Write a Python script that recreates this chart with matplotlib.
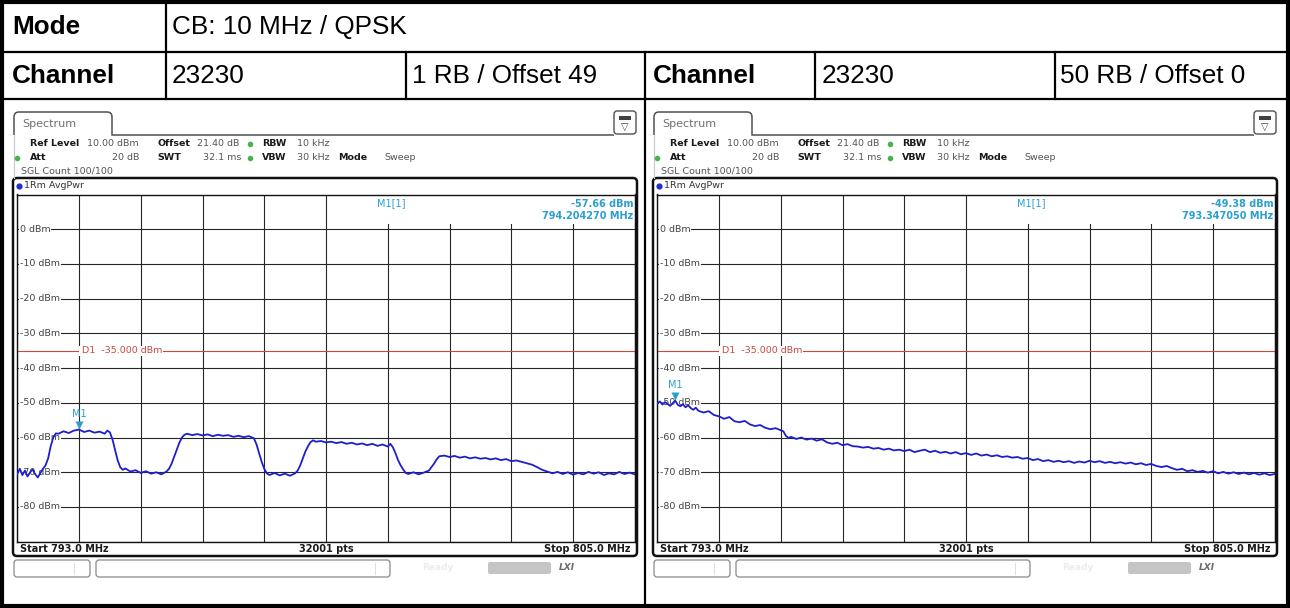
import matplotlib
matplotlib.use("Agg")
import matplotlib.pyplot as plt
import matplotlib.transforms as mtransforms
from matplotlib.patches import FancyBboxPatch, Rectangle, PathPatch
from matplotlib.path import Path
import numpy as np

W, H = 1290, 608

# ---- table texts ----
mode_text = "CB: 10 MHz / QPSK"
channels = ["23230", "23230"]
rb_configs = ["1 RB / Offset 49", "50 RB / Offset 0"]

# ---- analyzer settings ----
ref_level = 10.0
y_bottom = -90.0
f_start, f_stop = 793.0, 805.0
d1_level = -35.0
y_labels = [0, -10, -20, -30, -40, -50, -60, -70, -80]

marker_freq = [794.204270, 793.347050]
marker_level = [-57.66, -49.38]

# trace (MHz, dBm)
left_trace = [
    (793.00, -70.5), (793.05, -69.0), (793.10, -70.8), (793.15, -69.5), (793.20, -71.2),
    (793.25, -70.0), (793.30, -69.2), (793.35, -70.6), (793.40, -71.5), (793.45, -70.2),
    (793.50, -69.0), (793.55, -68.0), (793.60, -66.0), (793.65, -62.5), (793.70, -60.0),
    (793.75, -58.8), (793.80, -58.9), (793.90, -58.2), (794.00, -58.7), (794.10, -58.0),
    (794.20, -57.7), (794.30, -58.4), (794.40, -58.0), (794.50, -58.6), (794.60, -58.3),
    (794.70, -58.9), (794.75, -58.0), (794.80, -58.5), (794.85, -60.5), (794.90, -63.5),
    (794.95, -66.5), (795.00, -68.5), (795.05, -69.3), (795.10, -68.9), (795.20, -69.8),
    (795.30, -69.4), (795.40, -70.2), (795.50, -69.7), (795.60, -70.4), (795.70, -70.0),
    (795.80, -70.6), (795.90, -69.8), (795.95, -69.0), (796.00, -67.5), (796.05, -65.5),
    (796.10, -63.5), (796.15, -61.5), (796.20, -60.0), (796.25, -59.2), (796.30, -58.9),
    (796.40, -59.3), (796.50, -59.0), (796.60, -59.4), (796.70, -59.1), (796.80, -59.6),
    (796.90, -59.2), (797.00, -59.5), (797.10, -59.3), (797.20, -59.8), (797.30, -59.5),
    (797.40, -59.9), (797.50, -59.6), (797.60, -60.2), (797.65, -62.0), (797.70, -64.5),
    (797.75, -67.0), (797.80, -69.0), (797.85, -70.3), (797.90, -70.8), (798.00, -70.2),
    (798.10, -70.9), (798.20, -70.4), (798.30, -71.0), (798.40, -70.3), (798.45, -69.5),
    (798.50, -68.0), (798.55, -66.0), (798.60, -64.0), (798.65, -62.5), (798.70, -61.3),
    (798.75, -60.8), (798.80, -61.2), (798.90, -61.0), (799.00, -61.4), (799.10, -61.2),
    (799.20, -61.6), (799.30, -61.3), (799.40, -61.8), (799.50, -61.5), (799.60, -62.0),
    (799.70, -61.7), (799.80, -62.2), (799.90, -61.8), (800.00, -62.4), (800.10, -62.0),
    (800.20, -62.6), (800.25, -61.8), (800.30, -62.8), (800.35, -64.5), (800.40, -66.5),
    (800.45, -68.0), (800.50, -69.2), (800.55, -70.2), (800.60, -70.5), (800.70, -70.0),
    (800.80, -70.6), (800.90, -70.1), (801.00, -69.5), (801.05, -68.5), (801.10, -67.5),
    (801.15, -66.3), (801.20, -65.4), (801.30, -65.2), (801.40, -65.6), (801.50, -65.3),
    (801.60, -65.8), (801.70, -65.5), (801.80, -66.0), (801.90, -65.7), (802.00, -66.1),
    (802.10, -65.9), (802.20, -66.3), (802.30, -66.0), (802.40, -66.5), (802.50, -66.2),
    (802.60, -66.8), (802.70, -66.6), (802.80, -67.0), (802.90, -67.4), (803.00, -67.8),
    (803.10, -68.5), (803.20, -69.3), (803.30, -69.8), (803.40, -70.3), (803.50, -69.9),
    (803.60, -70.5), (803.70, -70.0), (803.80, -70.7), (803.90, -70.2), (804.00, -70.6),
    (804.10, -69.9), (804.20, -70.4), (804.30, -70.0), (804.40, -70.8), (804.50, -70.3),
    (804.60, -70.6), (804.70, -69.9), (804.80, -70.5), (804.90, -70.1), (805.00, -70.6),
]

right_trace = [
    (793.00, -50.2), (793.05, -49.6), (793.10, -50.5), (793.15, -49.8), (793.20, -50.3),
    (793.25, -50.9), (793.30, -50.1), (793.35, -49.4), (793.40, -50.6), (793.45, -51.0),
    (793.50, -50.4), (793.55, -51.3), (793.60, -50.7), (793.65, -51.5), (793.70, -52.0),
    (793.75, -51.4), (793.80, -52.3), (793.90, -52.8), (794.00, -52.4), (794.10, -53.5),
    (794.20, -53.9), (794.30, -54.6), (794.40, -54.1), (794.50, -55.3), (794.60, -55.6),
    (794.70, -55.2), (794.80, -56.2), (794.90, -56.7), (795.00, -56.4), (795.10, -57.2),
    (795.20, -57.6), (795.30, -57.3), (795.40, -57.9), (795.45, -58.2), (795.50, -59.5),
    (795.55, -60.1), (795.60, -59.8), (795.70, -60.4), (795.80, -60.0), (795.90, -60.6),
    (796.00, -60.3), (796.10, -60.9), (796.20, -60.5), (796.30, -61.4), (796.40, -61.8),
    (796.50, -61.5), (796.60, -62.2), (796.70, -61.9), (796.80, -62.5), (796.90, -62.6),
    (797.00, -62.9), (797.10, -62.7), (797.20, -63.2), (797.30, -63.0), (797.40, -63.5),
    (797.50, -63.2), (797.60, -63.7), (797.70, -63.5), (797.80, -63.9), (797.90, -63.5),
    (798.00, -64.2), (798.10, -63.8), (798.20, -63.5), (798.30, -64.2), (798.40, -63.8),
    (798.50, -64.4), (798.60, -64.1), (798.70, -64.6), (798.80, -64.2), (798.90, -64.8),
    (799.00, -64.5), (799.10, -65.0), (799.20, -64.6), (799.30, -65.2), (799.40, -64.9),
    (799.50, -65.4), (799.60, -65.1), (799.70, -65.6), (799.80, -65.4), (799.90, -65.8),
    (800.00, -65.6), (800.10, -66.1), (800.20, -65.9), (800.30, -66.5), (800.40, -66.2),
    (800.50, -66.8), (800.60, -66.5), (800.70, -67.0), (800.80, -66.7), (800.90, -67.1),
    (801.00, -66.8), (801.10, -67.3), (801.20, -66.9), (801.30, -67.2), (801.40, -66.7),
    (801.50, -67.1), (801.60, -66.8), (801.70, -67.3), (801.80, -67.0), (801.90, -67.4),
    (802.00, -67.1), (802.10, -67.5), (802.20, -67.2), (802.30, -67.7), (802.40, -67.4),
    (802.50, -67.9), (802.60, -67.6), (802.70, -68.2), (802.80, -68.5), (802.90, -68.2),
    (803.00, -68.8), (803.10, -69.3), (803.20, -69.0), (803.30, -69.7), (803.40, -69.4),
    (803.50, -69.9), (803.60, -69.6), (803.70, -70.1), (803.80, -69.7), (803.90, -70.3),
    (804.00, -69.9), (804.10, -70.4), (804.20, -70.0), (804.30, -70.5), (804.40, -70.1),
    (804.50, -70.6), (804.60, -70.2), (804.70, -70.7), (804.80, -70.3), (804.90, -70.8),
    (805.00, -70.5),
]

traces = [left_trace, right_trace]

TRACE_C = "#1e1ecc"
MARK_C = "#2a9fd0"
D1_C = "#c8483c"
GREEN = "#48b04c"
TABLE_FONT = "Liberation Sans"
SCREEN_FONT = "DejaVu Sans"

fig = plt.figure(figsize=(W / 100, H / 100), dpi=100)
bg = fig.add_axes([0, 0, 1, 1])
bg.set_xlim(0, W)
bg.set_ylim(H, 0)
bg.axis("off")

# ---- table ----
bg.add_patch(Rectangle((2, 2), W - 4, H - 4, fill=False, ec="black", lw=3))
bg.plot([0, W], [52, 52], color="black", lw=1.6)
bg.plot([0, W], [99, 99], color="black", lw=1.6)
bg.plot([166, 166], [0, 99], color="black", lw=1.6)
for xv in [406, 815, 1055]:
    bg.plot([xv, xv], [52, 99], color="black", lw=1.6)
bg.plot([645, 645], [52, H], color="black", lw=1.6)

tkw = dict(fontsize=18.8, va="center", family=TABLE_FONT, color="black")
bg.text(12, 27, "Mode", fontweight="bold", **tkw)
bg.text(172, 27, mode_text, **tkw)
bg.text(12, 76, "Channel", fontweight="bold", **tkw)
bg.text(172, 76, channels[0], **tkw)
bg.text(412, 76, rb_configs[0], **tkw)
bg.text(653, 76, "Channel", fontweight="bold", **tkw)
bg.text(822, 76, channels[1], **tkw)
bg.text(1060, 76, rb_configs[1], **tkw)


def hdr(x, y, s, bold=False, ha="left", color=None):
    bg.text(x, y, s, fontsize=6.8, family=SCREEN_FONT, va="center", ha=ha,
            fontweight="bold" if bold else "normal",
            color=color or ("#1a1a1a" if bold else "#555555"))


def draw_panel(ox, trace, mk_f, mk_l):
    # tab + line under it
    verts = [(ox + 14, 135), (ox + 14, 117), (ox + 14, 112), (ox + 19, 112),
             (ox + 107, 112), (ox + 112, 112), (ox + 112, 117), (ox + 112, 135),
             (ox + 614, 135)]
    codes = [Path.MOVETO, Path.LINETO, Path.CURVE3, Path.CURVE3, Path.LINETO,
             Path.CURVE3, Path.CURVE3, Path.LINETO, Path.LINETO]
    bg.add_patch(PathPatch(Path(verts, codes), fill=False, ec="#505050", lw=1.1))
    bg.plot([ox + 14, ox + 14], [135, 178], color="#c8c8c8", lw=0.8)
    bg.text(ox + 22, 124, "Spectrum", fontsize=8, family=SCREEN_FONT,
            color="#707070", va="center")
    # icon top right
    bg.add_patch(FancyBboxPatch((ox + 614, 111), 22, 23,
                                boxstyle="round,pad=0,rounding_size=3",
                                fc="white", ec="#505050", lw=1.0))
    bg.add_patch(Rectangle((ox + 619, 116), 12, 4, fc="#404040", ec="none"))
    bg.text(ox + 625, 127, "\u25bd", fontsize=7, family=SCREEN_FONT,
            color="#404040", ha="center", va="center")

    # header lines
    hdr(ox + 30, 144, "Ref Level", bold=True)
    hdr(ox + 87, 144, "10.00 dBm")
    hdr(ox + 157, 144, "Offset", bold=True)
    hdr(ox + 197, 144, "21.40 dB")
    hdr(ox + 262, 144, "RBW", bold=True)
    hdr(ox + 297, 144, "10 kHz")
    hdr(ox + 30, 158, "Att", bold=True)
    hdr(ox + 139, 158, "20 dB", ha="right")
    hdr(ox + 157, 158, "SWT", bold=True)
    hdr(ox + 203, 158, "32.1 ms")
    hdr(ox + 262, 158, "VBW", bold=True)
    hdr(ox + 297, 158, "30 kHz")
    hdr(ox + 338, 158, "Mode", bold=True)
    hdr(ox + 384, 158, "Sweep")
    hdr(ox + 21, 171, "SGL Count 100/100")
    bg.plot([ox + 250, ox + 17, ox + 250], [144, 158, 158], "o", ms=4,
            color=GREEN, mec="none")

    # display frame
    bg.add_patch(FancyBboxPatch((ox + 13, 178), 624, 378,
                                boxstyle="round,pad=0,rounding_size=4",
                                fc="white", ec="#111111", lw=1.8))
    bg.plot([ox + 19], [186], "o", ms=4.5, color="#2030d0", mec="none")
    bg.text(ox + 24, 186, "1Rm AvgPwr", fontsize=6.8, family=SCREEN_FONT,
            color="#333333", va="center")
    bg.text(ox + 20, 549, f"Start {f_start:.1f} MHz", fontsize=7, family=SCREEN_FONT,
            fontweight="bold", color="#1a1a1a", va="center")
    bg.text(ox + 326, 549, "32001 pts", fontsize=7, family=SCREEN_FONT,
            fontweight="bold", color="#1a1a1a", va="center", ha="center")
    bg.text(ox + 630, 549, f"Stop {f_stop:.1f} MHz", fontsize=7, family=SCREEN_FONT,
            fontweight="bold", color="#1a1a1a", va="center", ha="right")

    # soft keys under the display
    bg.add_patch(FancyBboxPatch((ox + 14, 560), 76, 17,
                                boxstyle="round,pad=0,rounding_size=3",
                                fc="white", ec="#8a8a8a", lw=0.9))
    bg.add_patch(FancyBboxPatch((ox + 96, 560), 294, 17,
                                boxstyle="round,pad=0,rounding_size=3",
                                fc="white", ec="#8a8a8a", lw=0.9))
    bg.plot([ox + 74, ox + 74], [563, 574], color="#e0e0e0", lw=0.8)
    bg.plot([ox + 375, ox + 375], [563, 574], color="#e0e0e0", lw=0.8)
    bg.text(ox + 438, 568, "Ready", fontsize=6.5, family=SCREEN_FONT,
            color="#ececec", va="center", ha="center", fontweight="bold")
    bg.add_patch(FancyBboxPatch((ox + 488, 562), 63, 12,
                                boxstyle="round,pad=0,rounding_size=2",
                                fc="#c4c4c4", ec="none"))
    bg.text(ox + 567, 568, "LXI", fontsize=6.5, family=SCREEN_FONT,
            color="#6a6a6a", va="center", ha="center", fontweight="bold",
            style="italic")

    # measurement diagram
    x0, x1 = ox + 17.25, ox + 634.75
    y0, y1 = 194.5, 541.7
    ax = fig.add_axes([x0 / W, 1 - y1 / H, (x1 - x0) / W, (y1 - y0) / H])
    ax.set_xlim(f_start, f_stop)
    ax.set_ylim(y_bottom, ref_level)
    ax.set_xticks(np.linspace(f_start, f_stop, 11))
    ax.set_yticks(np.arange(y_bottom, ref_level + 1, 10))
    ax.tick_params(length=0, labelbottom=False, labelleft=False)
    ax.grid(True, color="#262626", lw=0.8)
    ax.set_axisbelow(True)
    for s in ax.spines.values():
        s.set_color("#111111")
        s.set_linewidth(1.0)

    blend = mtransforms.blended_transform_factory(ax.transAxes, ax.transData)
    for lv in y_labels:
        ax.text(0.004, lv, f"{lv} dBm", transform=blend, fontsize=6.8,
                family=SCREEN_FONT, color="#444444", va="center", zorder=2,
                bbox=dict(fc="white", ec="none", pad=0.6))

    # marker info box
    ax.add_patch(Rectangle((0.537, 1 - 29 / 347), 0.463, 29 / 347,
                           transform=ax.transAxes, fc="white", ec="none", zorder=1))
    ax.text(0.605, 7.4, "M1[1]", transform=blend, fontsize=7, family=SCREEN_FONT,
            color=MARK_C, va="center", ha="center", zorder=2)
    ax.text(0.998, 7.4, f"{mk_l:.2f} dBm", transform=blend, fontsize=7,
            family=SCREEN_FONT, color=MARK_C, va="center", ha="right",
            fontweight="bold", zorder=2)
    ax.text(0.998, 3.7, f"{mk_f:.6f} MHz", transform=blend, fontsize=7,
            family=SCREEN_FONT, color=MARK_C, va="center", ha="right",
            fontweight="bold", zorder=2)

    # display line D1
    ax.axhline(d1_level, color=D1_C, lw=0.8, zorder=1.5)
    ax.text(0.1, d1_level, f" D1  {d1_level:.3f} dBm", transform=blend, fontsize=6.8,
            family=SCREEN_FONT, color=D1_C, va="center", zorder=2,
            bbox=dict(fc="white", ec="none", pad=0.2))

    f = [p[0] for p in trace]
    lv = [p[1] for p in trace]
    ax.plot(f, lv, color=TRACE_C, lw=1.3, zorder=3)

    up = mtransforms.offset_copy(ax.transData, fig=fig, x=0, y=3.5, units="points")
    ax.plot([mk_f], [mk_l], "v", ms=6, color=MARK_C, mec="none",
            transform=up, zorder=4)
    ax.annotate("M1", (mk_f, mk_l), xytext=(0, 11), textcoords="offset points",
                fontsize=7, family=SCREEN_FONT, color=MARK_C, ha="center",
                va="center", zorder=4)
    return ax


for i, ox in enumerate([0, 640]):
    draw_panel(ox, traces[i], marker_freq[i], marker_level[i])

fig.savefig("out.png", dpi=100)
